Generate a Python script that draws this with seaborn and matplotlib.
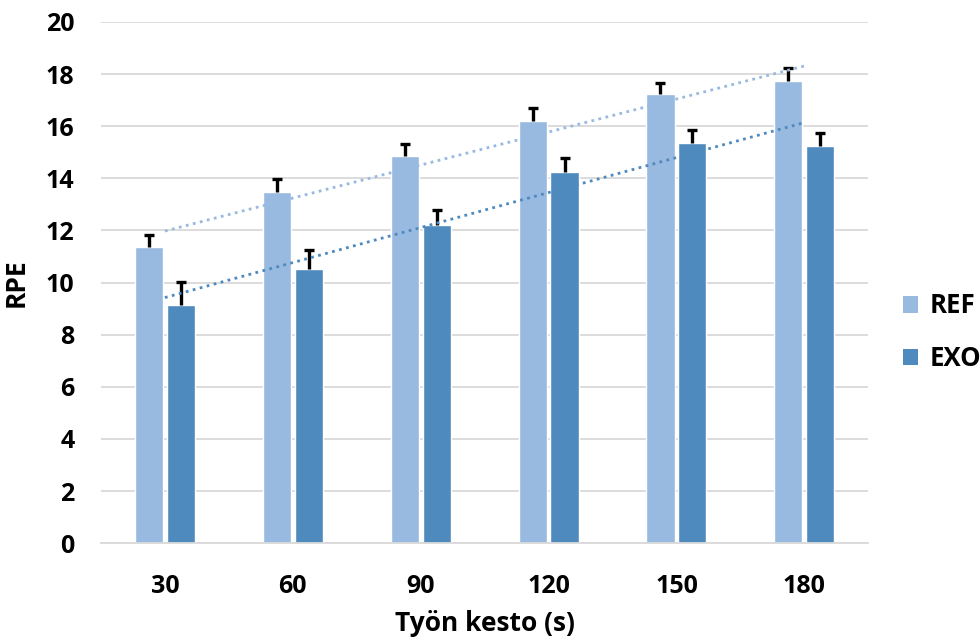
import numpy as np
import pandas as pd
import matplotlib
matplotlib.use("Agg")
import matplotlib.pyplot as plt
import seaborn as sns
from matplotlib.patches import Patch

durations = ["30", "60", "90", "120", "150", "180"]
ref_values = [11.36, 13.49, 14.86, 16.21, 17.22, 17.72]
exo_values = [9.14, 10.51, 12.22, 14.24, 15.34, 15.24]
ref_err = [0.46, 0.50, 0.45, 0.48, 0.43, 0.53]
exo_err = [0.90, 0.74, 0.56, 0.55, 0.50, 0.50]
groups = ["REF", "EXO"]
y_ticks = [0, 2, 4, 6, 8, 10, 12, 14, 16, 18, 20]

colors = {"REF": "#98B9E0", "EXO": "#4F8ABE"}

df = pd.DataFrame({
    "kesto": durations * 2,
    "RPE": ref_values + exo_values,
    "group": ["REF"] * len(durations) + ["EXO"] * len(durations),
})

sns.set_style("white")
plt.rcParams["font.family"] = ["Open Sans", "DejaVu Sans"]
plt.rcParams["font.weight"] = "bold"
plt.rcParams["text.color"] = "black"
plt.rcParams["axes.labelcolor"] = "black"
plt.rcParams["xtick.color"] = "black"
plt.rcParams["ytick.color"] = "black"

fig = plt.figure(figsize=(9.8, 6.39), dpi=100)
ax = fig.add_axes([0.103, 0.150, 0.783, 0.8156])

sns.barplot(data=df, x="kesto", y="RPE", hue="group", order=durations,
            hue_order=groups, palette=colors, saturation=1, width=0.5, gap=0.12,
            errorbar=None, ax=ax, legend=False, zorder=2)

# error bars (upper only)
n = len(durations)
for gi, (vals, errs) in enumerate([(ref_values, ref_err), (exo_values, exo_err)]):
    patches = ax.patches[gi * n:(gi + 1) * n]
    xs = [p.get_x() + p.get_width() / 2 for p in patches]
    eb = ax.errorbar(xs, vals, yerr=[np.zeros(n), errs], fmt="none", ecolor="black",
                     elinewidth=2.4, capsize=3.7, capthick=2.4, zorder=3)
    eb[1][0].set_visible(False)

# linear trend lines
xpos = np.arange(n)
for vals, g in [(ref_values, "REF"), (exo_values, "EXO")]:
    k, b = np.polyfit(xpos + 1, vals, 1)
    ax.plot(xpos, k * (xpos + 1) + b, linestyle=(0, (1, 1.6)), color=colors[g],
            linewidth=2, zorder=4)

ax.set_ylim(0, 20)
ax.set_xlim(-0.5, n - 0.5)
ax.set_yticks(y_ticks)
ax.set_yticklabels([str(t) for t in y_ticks], fontsize=18, fontweight="bold")
ax.set_xticks(range(n))
ax.set_xticklabels(durations, fontsize=18, fontweight="bold")
ax.tick_params(axis="both", length=0)
ax.tick_params(axis="y", pad=19)
ax.tick_params(axis="x", pad=22)
ax.yaxis.grid(True, color="#d9d9d9", linewidth=1.3, zorder=0)
ax.set_axisbelow(True)
for s in ["left", "right", "top"]:
    ax.spines[s].set_visible(False)
ax.spines["bottom"].set_color("#d9d9d9")
ax.spines["bottom"].set_linewidth(1.3)

ax.set_xlabel("Työn kesto (s)", fontsize=19, fontweight="bold", labelpad=8)
ax.set_ylabel("RPE", fontsize=19, fontweight="bold", labelpad=12)

handles = [Patch(facecolor=colors[g], edgecolor="none", label=g) for g in groups]
fig.legend(handles=handles, loc="center left", bbox_to_anchor=(0.921, 0.48),
           frameon=False, prop={"size": 18.5, "weight": "bold"},
           handlelength=0.6, handleheight=0.6, handletextpad=0.45, labelspacing=1.0,
           borderaxespad=0, borderpad=0)

fig.savefig("out.png", dpi=100)
